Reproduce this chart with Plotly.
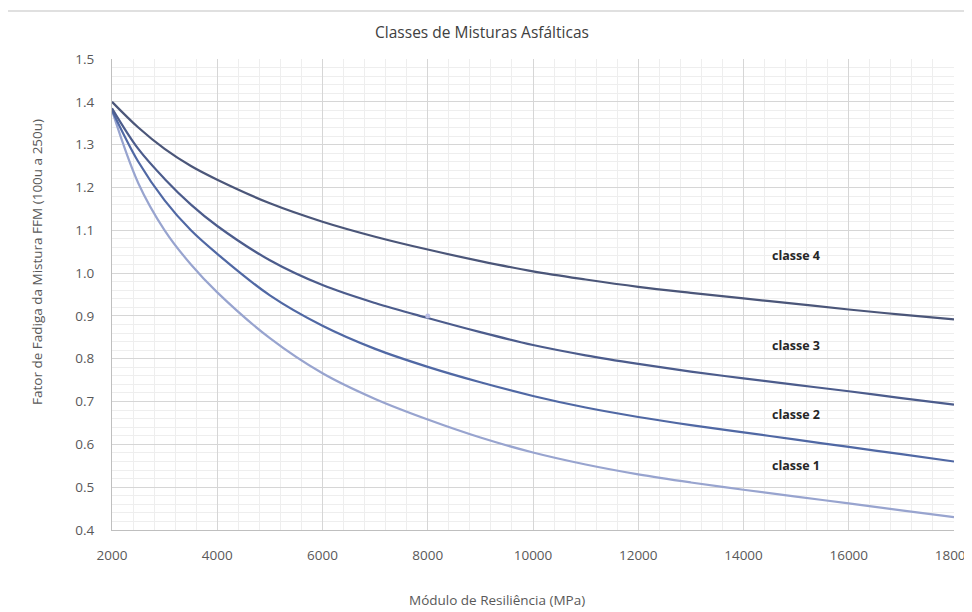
import plotly.graph_objects as go

modulo = [2000, 2500, 3000, 3500, 4000, 5000, 6000, 7000, 8000, 9000, 10000,
          11000, 12000, 13000, 14000, 15000, 16000, 17000, 18000]
classe4 = [1.40, 1.34, 1.29, 1.25, 1.218, 1.163, 1.12, 1.085, 1.055, 1.028, 1.004,
           0.985, 0.968, 0.954, 0.941, 0.928, 0.915, 0.903, 0.892]
classe3 = [1.385, 1.29, 1.22, 1.16, 1.11, 1.03, 0.972, 0.93, 0.895, 0.862, 0.832,
           0.808, 0.788, 0.770, 0.754, 0.739, 0.724, 0.708, 0.693]
classe2 = [1.38, 1.26, 1.17, 1.10, 1.045, 0.948, 0.877, 0.823, 0.781, 0.745, 0.713,
           0.686, 0.664, 0.645, 0.628, 0.611, 0.594, 0.577, 0.56]
classe1 = [1.38, 1.21, 1.10, 1.02, 0.955, 0.848, 0.766, 0.706, 0.658, 0.616, 0.581,
           0.553, 0.530, 0.511, 0.494, 0.478, 0.462, 0.446, 0.43]

series_names = ["classe 1", "classe 2", "classe 3", "classe 4"]
series_vals = [classe1, classe2, classe3, classe4]
series_colors = ["#98a4cf", "#5068a4", "#4c5c8c", "#4b5679"]

label_x = [15000, 15000, 15000, 15000]
label_y = [0.55, 0.67, 0.83, 1.04]

ponto_x = [8000]
ponto_y = [0.90]

# page body has an 8px margin, so the figure is sized to fill the rest of the window
W, H = 964, 604
ML, MR, MT, MB = 104, 18, 51, 82
PW, PH = W - ML - MR, H - MT - MB

fig = go.Figure()
for name, vals, col in zip(series_names, series_vals, series_colors):
    fig.add_trace(go.Scatter(x=modulo, y=vals, mode="lines", name=name,
                             line=dict(color=col, width=2.2, shape="spline", smoothing=1.0),
                             showlegend=False))

fig.add_trace(go.Scatter(x=ponto_x, y=ponto_y, mode="markers",
                         marker=dict(color="#b9bde3", size=5), showlegend=False))

for name, lx, ly in zip(series_names, label_x, label_y):
    fig.add_annotation(x=lx, y=ly, text="<b>" + name + "</b>", showarrow=False,
                       font=dict(size=12.5, color="#262626", family="Open Sans"))

# axis titles as annotations (positioned like the original, not centred on the plot)
fig.add_annotation(xref="paper", yref="paper", x=(489 - ML) / PW, y=(H - MB - 592) / PH,
                   text="Módulo de Resiliência (MPa)", showarrow=False,
                   xanchor="center", yanchor="middle",
                   font=dict(size=13.5, color="#595959", family="Open Sans"))
fig.add_annotation(xref="paper", yref="paper", x=(29 - ML) / PW, y=(H - MB - 254) / PH,
                   text="Fator de Fadiga da Mistura FFM (100u a 250u)", showarrow=False,
                   textangle=-90, xanchor="center", yanchor="middle",
                   font=dict(size=13.5, color="#595959", family="Open Sans"))

fig.update_layout(
    width=W, height=H,
    margin=dict(l=ML, r=MR, t=MT, b=MB),
    paper_bgcolor="white", plot_bgcolor="white",
    font=dict(family="Open Sans", color="#595959", size=13.5),
    title=dict(text="Classes de Misturas Asfálticas", x=474 / W, xanchor="center",
               y=1 - 25 / H, yanchor="middle",
               font=dict(size=15.5, color="#404040", family="Open Sans")),
    shapes=[dict(type="line", xref="paper", yref="paper", x0=-ML / PW, x1=(W - ML) / PW,
                 y0=(H - MB - 3) / PH, y1=(H - MB - 3) / PH,
                 line=dict(color="#d6d6d6", width=1.5))],
)

fig.update_xaxes(
    range=[2000, 18000], dtick=2000, tickformat="d", automargin=False,
    ticklabeloverflow="allow",
    showgrid=True, gridcolor="#d6d6d6", gridwidth=1,
    minor=dict(dtick=400, showgrid=True, gridcolor="#eeeeee", gridwidth=1),
    showline=True, linecolor="#bfbfbf", linewidth=1, zeroline=False,
    ticks="", ticklabelstandoff=13,
)
fig.update_yaxes(
    range=[0.4, 1.5], dtick=0.1, tickformat=".1f", automargin=False,
    ticklabeloverflow="allow",
    showgrid=True, gridcolor="#d6d6d6", gridwidth=1,
    minor=dict(dtick=0.02, showgrid=True, gridcolor="#eeeeee", gridwidth=1),
    showline=True, linecolor="#bfbfbf", linewidth=1, zeroline=False,
    ticks="", ticklabelstandoff=14,
)

fig.write_html("out.html")
